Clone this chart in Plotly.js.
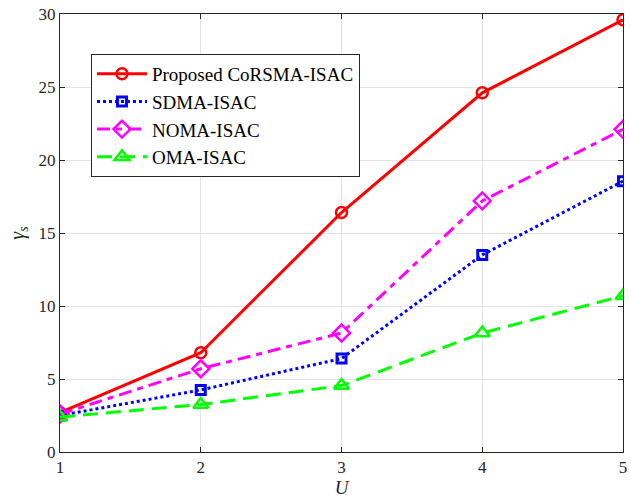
<!DOCTYPE html>
<html><head><meta charset="utf-8">
<script src="https://cdn.plot.ly/plotly-3.0.1.min.js"></script>
<style>body{margin:0;background:#fff}#c{width:631px;height:498px}</style>
</head><body><div id="c"></div>
<script>
const U = [1, 2, 3, 4, 5];
const proposed = [2.7, 6.8, 16.4, 24.6, 29.6];
const sdma = [2.5, 4.25, 6.4, 13.5, 18.55];
const noma = [2.6, 5.7, 8.15, 17.2, 22.1];
const oma = [2.4, 3.25, 4.55, 8.15, 10.7];
const xTicks = [1, 2, 3, 4, 5];
const yTicks = [0, 5, 10, 15, 20, 25, 30];

const traces = [
  {x: U, y: proposed, name: 'Proposed CoRSMA-ISAC', mode: 'lines+markers',
   line: {color: '#ff0000', width: 3}, marker: {symbol: 'circle-open', size: 11, color: '#ff0000', line: {width: 2.5}}},
  {x: U, y: sdma, name: 'SDMA-ISAC', mode: 'lines+markers',
   line: {color: '#0000ff', width: 3, dash: 'dot'}, marker: {symbol: 'square-open', size: 9, color: '#0000ff', line: {width: 3}}},
  {x: U, y: noma, name: 'NOMA-ISAC', mode: 'lines+markers',
   line: {color: '#ff00ff', width: 3, dash: '13px,6px,6px,6px'}, marker: {symbol: 'diamond-open', size: 13, color: '#ff00ff', line: {width: 2.5}}},
  {x: U, y: oma, name: 'OMA-ISAC', mode: 'lines+markers',
   line: {color: '#00ff00', width: 3, dash: '15px,8px'}, marker: {symbol: 'triangle-up-open', size: 13, color: '#00ff00', line: {width: 2.5}}}
];

const serif = 'Liberation Serif, Times New Roman, serif';
const axFont = {family: serif, size: 17, color: '#262626'};
const layout = {
  width: 631, height: 498,
  margin: {l: 60, r: 8, t: 14, b: 46},
  paper_bgcolor: '#fff', plot_bgcolor: '#fff',
  showlegend: true,
  legend: {x: 0.055, y: 0.909, xanchor: 'left', yanchor: 'top', bgcolor: '#fff',
    bordercolor: '#262626', borderwidth: 1,
    font: {family: serif, size: 19, color: '#000'},
    tracegroupgap: 0, itemwidth: 50},
  xaxis: {range: [1, 5], tickvals: xTicks, ticktext: xTicks.map(String), ticks: 'inside', ticklen: 5,
    showgrid: true, gridcolor: '#e3e3e3', gridwidth: 1, zeroline: false,
    showline: true, linecolor: '#262626', linewidth: 1, mirror: 'ticks', tickcolor: '#262626',
    tickfont: axFont,
    title: {text: '<i>U</i>', font: {family: serif, size: 19, color: '#262626'}, standoff: 0}},
  yaxis: {range: [0, 30], tickvals: yTicks, ticktext: yTicks.map(String), ticks: 'inside', ticklen: 5,
    showgrid: true, gridcolor: '#e3e3e3', gridwidth: 1, zeroline: false,
    showline: true, linecolor: '#262626', linewidth: 1, mirror: 'ticks', tickcolor: '#262626',
    tickfont: axFont,
    title: {text: '<i>γ<sub>s</sub></i>', font: {family: serif, size: 20, color: '#262626'}, standoff: 8}}
};
Plotly.newPlot('c', traces, layout, {displayModeBar: false, staticPlot: true});
</script></body></html>
